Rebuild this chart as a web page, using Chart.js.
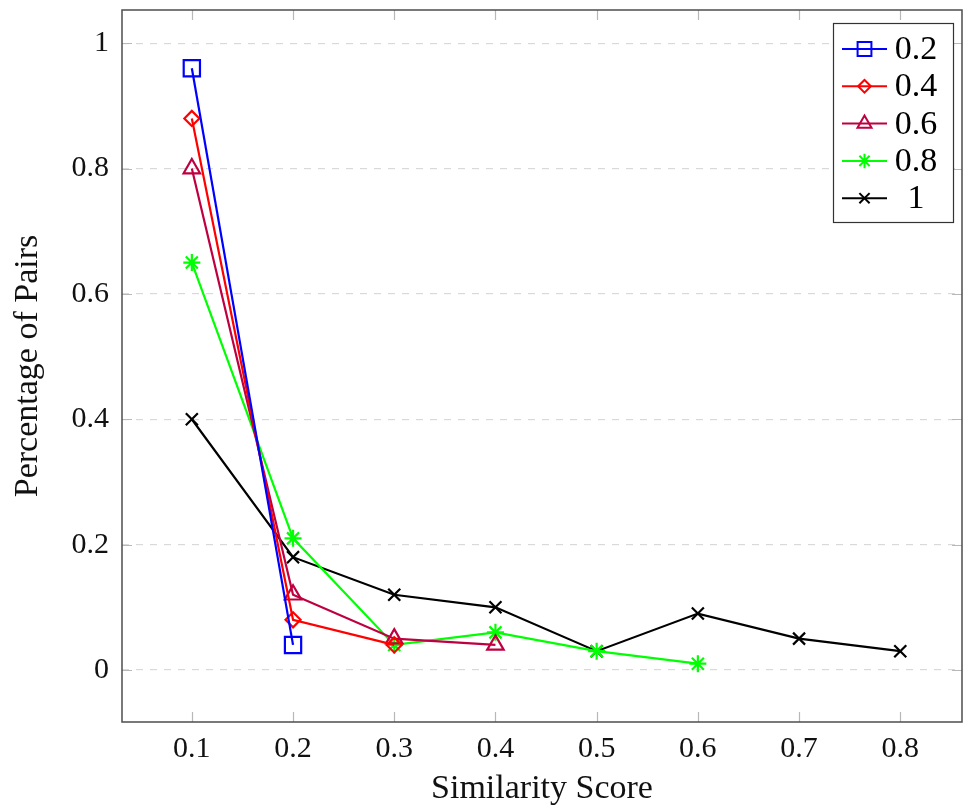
<!DOCTYPE html>
<html>
<head>
<meta charset="utf-8">
<script src="https://cdn.jsdelivr.net/npm/chart.js@4/dist/chart.umd.min.js"></script>
<style>
  html, body { margin: 0; padding: 0; background: #fff; }
  #wrap { width: 963px; height: 809px; }
</style>
</head>
<body>
<div id="wrap"><canvas id="c" width="963" height="809"></canvas></div>
<script>
// ---- data ----
const similarity = [0.1, 0.2, 0.3, 0.4, 0.5, 0.6, 0.7, 0.8];
const xTicks = [0.1, 0.2, 0.3, 0.4, 0.5, 0.6, 0.7, 0.8];
const yTicks = [0, 0.2, 0.4, 0.6, 0.8, 1];
const seriesLabels = ['0.2', '0.4', '0.6', '0.8', '1'];
const s02 = [0.96, 0.04];
const s04 = [0.88, 0.08, 0.04];
const s06 = [0.80, 0.12, 0.05, 0.04];
const s08 = [0.65, 0.21, 0.04, 0.06, 0.03, 0.01];
const s1  = [0.40, 0.18, 0.12, 0.10, 0.03, 0.09, 0.05, 0.03];

const seriesValues = [s02, s04, s06, s08, s1];
const colors = ['#0000ff', '#ff0000', '#bf0040', '#00ff00', '#000000'];
const styles = ['rect', 'rectRot', 'triangle', 'star', 'crossRot'];
const radii = [11.5, 7.5, 9.5, 8.5, 8.5];

const FONT = "'Liberation Serif', 'Times New Roman', serif";

const datasets = seriesValues.map((vals, i) => ({
  label: seriesLabels[i],
  data: vals.map((v, j) => ({ x: similarity[j], y: v })),
  borderColor: colors[i],
  backgroundColor: 'rgba(0,0,0,0)',
  borderWidth: 2.2,
  pointStyle: styles[i],
  pointRadius: radii[i],
  pointHoverRadius: radii[i],
  pointBorderColor: colors[i],
  pointBackgroundColor: 'rgba(0,0,0,0)',
  pointBorderWidth: 2.2,
  tension: 0,
  fill: false
}));

const frameAndLegend = {
  id: 'frameAndLegend',
  afterDatasetsDraw(chart) {
    const ctx = chart.ctx;
    const a = chart.chartArea;
    const xs = chart.scales.x, ys = chart.scales.y;
    ctx.save();
    // inward tick marks on all four sides
    ctx.strokeStyle = '#b8b8b8';
    ctx.lineWidth = 1.2;
    const TL = 10;
    xTicks.forEach(v => {
      const px = Math.round(xs.getPixelForValue(v)) + 0.5;
      ctx.beginPath();
      ctx.moveTo(px, a.bottom); ctx.lineTo(px, a.bottom - TL);
      ctx.moveTo(px, a.top); ctx.lineTo(px, a.top + TL);
      ctx.stroke();
    });
    yTicks.forEach(v => {
      const py = Math.round(ys.getPixelForValue(v)) + 0.5;
      ctx.beginPath();
      ctx.moveTo(a.left, py); ctx.lineTo(a.left + TL, py);
      ctx.moveTo(a.right, py); ctx.lineTo(a.right - TL, py);
      ctx.stroke();
    });
    // frame
    ctx.strokeStyle = '#4d4d4d';
    ctx.lineWidth = 1.5;
    ctx.strokeRect(a.left, a.top, a.right - a.left, a.bottom - a.top);

    // legend
    const bx = 833, by = 23, bw = 120, bh = 199;
    ctx.fillStyle = '#ffffff';
    ctx.fillRect(bx, by, bw, bh);
    ctx.strokeStyle = '#333333';
    ctx.lineWidth = 1.2;
    ctx.strokeRect(bx + 0.5, by + 0.5, bw, bh);
    chart.data.datasets.forEach((ds, i) => {
      const y = 49 + i * 37.3;
      ctx.strokeStyle = ds.borderColor;
      ctx.lineWidth = 2;
      ctx.beginPath();
      ctx.moveTo(842, y); ctx.lineTo(887, y);
      ctx.stroke();
      ctx.fillStyle = 'rgba(0,0,0,0)';
      ctx.strokeStyle = ds.borderColor;
      ctx.lineWidth = 2;
      if (Chart.helpers && Chart.helpers.drawPoint) {
        Chart.helpers.drawPoint(ctx, {
          pointStyle: ds.pointStyle,
          radius: ds.pointRadius * 0.85,
          rotation: 0,
          borderWidth: 2
        }, 864.5, y);
      }
      ctx.fillStyle = '#000';
      ctx.font = '34px ' + FONT;
      ctx.textAlign = 'center';
      ctx.textBaseline = 'middle';
      ctx.fillText(ds.label, 916, y + 1);
    });
    ctx.restore();
  }
};

new Chart(document.getElementById('c'), {
  type: 'line',
  data: { datasets },
  options: {
    responsive: false,
    animation: false,
    events: [],
    layout: { autoPadding: false, padding: { top: 10, right: 1, left: 0, bottom: 0 } },
    plugins: {
      legend: { display: false },
      tooltip: { enabled: false },
      title: { display: false }
    },
    scales: {
      x: {
        type: 'linear',
        min: 0.031,
        max: 0.861,
        afterBuildTicks: s => { s.ticks = xTicks.map(v => ({ value: v })); },
        afterFit: s => { s.height = 87; s.paddingLeft = 0; s.paddingRight = 0; },
        grid: { display: false, drawTicks: false },
        border: { display: false },
        ticks: {
          padding: 9,
          color: '#111',
          font: { family: FONT, size: 30 },
          maxRotation: 0,
          autoSkip: false,
          callback: v => String(v)
        },
        title: {
          display: true,
          text: 'Similarity Score',
          color: '#111',
          font: { family: FONT, size: 34 },
          padding: { top: 0, bottom: 0 }
        }
      },
      y: {
        type: 'linear',
        min: -0.083,
        max: 1.053,
        afterBuildTicks: s => { s.ticks = yTicks.map(v => ({ value: v })); },
        afterFit: s => { s.width = 122; s.paddingTop = 0; s.paddingBottom = 0; },
        grid: {
          display: true,
          drawTicks: false,
          color: '#d9d9d9',
          lineWidth: 1.2
        },
        border: { display: false, dash: [7, 7] },
        ticks: {
          padding: 13,
          color: '#111',
          font: { family: FONT, size: 30 },
          autoSkip: false,
          callback: v => String(v)
        },
        title: {
          display: true,
          text: 'Percentage of Pairs',
          color: '#111',
          font: { family: FONT, size: 34 },
          padding: { top: 8, bottom: 0 }
        }
      }
    }
  },
  plugins: [frameAndLegend]
});
</script>
</body>
</html>
